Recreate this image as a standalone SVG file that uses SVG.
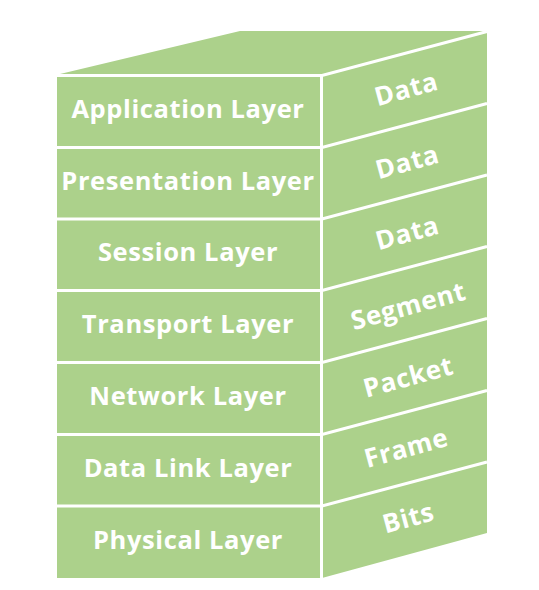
<svg xmlns="http://www.w3.org/2000/svg" width="539" height="590" viewBox="0 0 539 590">
<style>
.face{fill:#acd18b}
.ln{stroke:#ffffff;stroke-width:3;fill:none}
.fl{font-family:"Open Sans",Lato,sans-serif;font-weight:bold;font-size:25.5px;letter-spacing:0.6px;fill:#ffffff;text-anchor:middle;dominant-baseline:central}
.sl{font-family:"Open Sans",Lato,sans-serif;font-weight:bold;font-size:26px;letter-spacing:0.6px;fill:#ffffff;text-anchor:middle;dominant-baseline:central}
</style>
<rect width="539" height="590" fill="#ffffff"/>
<g id="box">
<polygon class="face" points="60,74 240,31 487,31 322,75"/>
<rect class="face" x="57" y="76" width="265" height="502"/>
<polygon class="face" points="322,75 487,31 487,533 322,578"/>
</g>
<g id="connectors">
<path class="ln" d="M57,75.5 H322 L487,31.5"/>
<path class="ln" d="M321.5,75 V578"/>
<path class="ln" d="M57,147.5 H322 L487,103.5"/>
<path class="ln" d="M57,219 H322 L487,175"/>
<path class="ln" d="M57,290.5 H322 L487,246.5"/>
<path class="ln" d="M57,362.5 H322 L487,318.5"/>
<path class="ln" d="M57,434.5 H322 L487,390.5"/>
<path class="ln" d="M57,506 H322 L487,462"/>
</g>
<g id="application"><text class="fl" x="188" y="108">Application Layer</text><text class="sl" transform="translate(406,88) rotate(-15.3)">Data</text></g>
<g id="presentation"><text class="fl" x="188" y="180">Presentation Layer</text><text class="sl" transform="translate(407,161) rotate(-15.3)">Data</text></g>
<g id="session"><text class="fl" x="188" y="251">Session Layer</text><text class="sl" transform="translate(407,232) rotate(-15.3)">Data</text></g>
<g id="transport"><text class="fl" x="188" y="323">Transport Layer</text><text class="sl" transform="translate(408,305) rotate(-15.3)">Segment</text></g>
<g id="network"><text class="fl" x="188" y="395">Network Layer</text><text class="sl" transform="translate(408,376) rotate(-15.3)">Packet</text></g>
<g id="datalink"><text class="fl" x="188" y="467">Data Link Layer</text><text class="sl" transform="translate(406,447) rotate(-15.3)">Frame</text></g>
<g id="physical"><text class="fl" x="188" y="539">Physical Layer</text><text class="sl" transform="translate(408,517) rotate(-15.3)">Bits</text></g>
</svg>
